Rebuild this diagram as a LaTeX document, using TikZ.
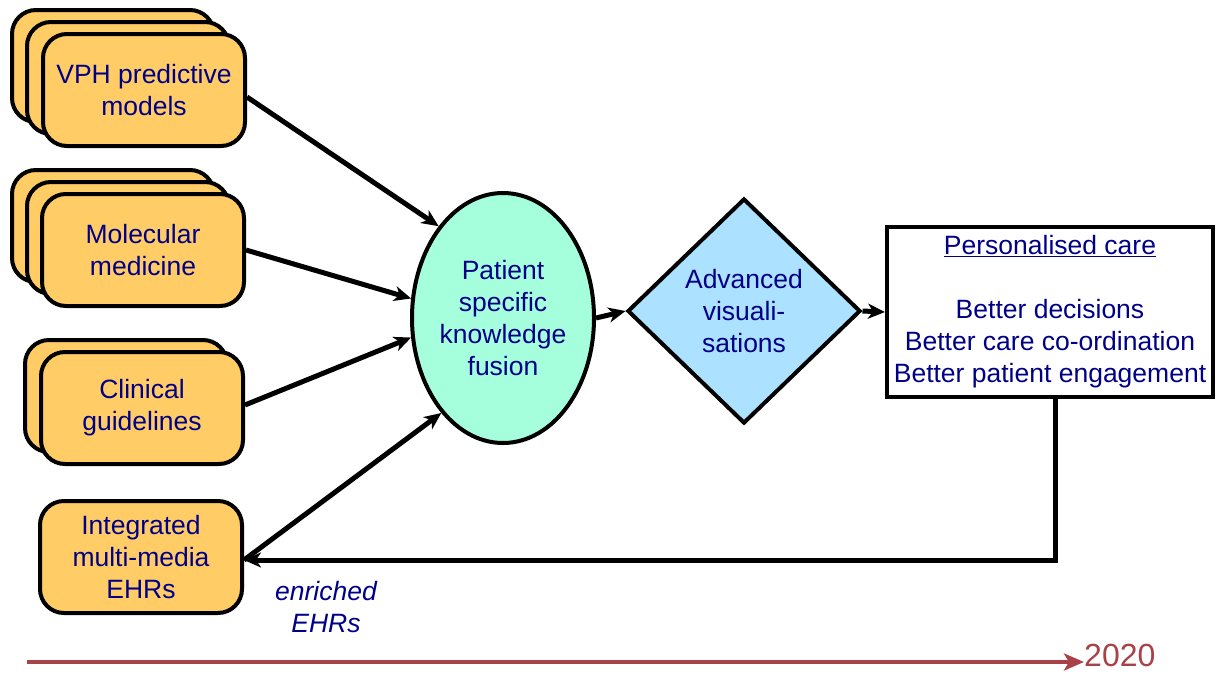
\documentclass[tikz,border=0pt]{standalone}
\usepackage{fontspec}
\setmainfont{Liberation Sans}
\usetikzlibrary{shapes.geometric,arrows.meta}
\definecolor{navy}{RGB}{0,0,135}
\definecolor{boxorange}{RGB}{255,204,102}
\definecolor{aqua}{RGB}{166,255,220}
\definecolor{lblue}{RGB}{172,226,255}
\definecolor{tline}{RGB}{168,66,72}
\tikzset{
  src/.style={draw=black, line width=4pt, fill=boxorange, rounded corners=24pt,
    minimum width=202pt, minimum height=112pt, inner sep=0pt, align=center,
    text=navy, font=\fontsize{26.5}{32}\selectfont},
  conn/.style={line width=5pt, -{Stealth[length=17pt,width=15pt,inset=5pt]}},
}
\begin{document}
\begin{tikzpicture}[x=1pt,y=-1pt]
\useasboundingbox (0,0) rectangle (1216,673);
% VPH stack
\node[src] (vphb) at (113,66) {};
\node[src] (vphm) at (128,78) {};
\node[src] (vph) at (144,90) {VPH predictive\\models};
% Molecular stack
\node[src] (molb) at (113,226) {};
\node[src] (molm) at (128,238) {};
\node[src] (mol) at (143,250) {Molecular\\medicine};
% Clinical stack
\node[src] (clib) at (126,396) {};
\node[src] (cli) at (142,408) {Clinical\\guidelines};
% Integrated
\node[src] (ehr) at (141,557) {Integrated\\multi-media\\EHRs};
% fusion
\node[ellipse, draw=black, line width=4pt, fill=aqua, minimum width=182pt,
  minimum height=250pt, inner sep=0pt, align=center, text=navy,
  font=\fontsize{26.5}{32}\selectfont] (fus) at (503,318)
  {Patient\\specific\\knowledge\\fusion};
% diamond
\node[diamond, draw=black, line width=4pt, fill=lblue, minimum width=233pt,
  minimum height=225pt, inner sep=0pt, align=center, text=navy,
  font=\fontsize{26.5}{32}\selectfont] (vis) at (744,311)
  {Advanced\\visuali-\\sations};
% personalised care
\node[draw=black, line width=4pt, fill=white, minimum width=326pt,
  minimum height=170pt, inner sep=0pt, align=center, text=navy,
  font=\fontsize{26.5}{32}\selectfont] (pc) at (1050,312)
  {\underline{Personalised care}\\ \\Better decisions\\Better care co-ordination\\Better patient engagement};
% connectors
\draw[conn] ([yshift=-7pt]vph.east) -- (fus.125);
\draw[conn] (mol.east) -- (fus.168);
\draw[conn] ([yshift=3pt]cli.east) -- (fus.192);
\draw[conn] ([yshift=-3pt]ehr.east) -- (fus.237);
\draw[conn] (fus.east) -- (vis.west);
\draw[conn] (vis.east) -- (pc.west);
\draw[conn] ([xshift=5pt]pc.south) |- ([yshift=-3pt]ehr.east);
\node[text=navy, align=center, font=\fontsize{26.5}{32}\selectfont\itshape] (enr) at (326,607) {enriched\\EHRs};
% timeline
\node[text=tline, font=\fontsize{32}{36}\selectfont, inner sep=0pt, anchor=west] (yr) at (1084,655) {2020};
\coordinate (t0) at (27,662);
\draw[tline, line width=4.5pt, -{Stealth[length=20pt,width=17pt,inset=5pt]}] (t0) -- (yr.west |- t0);
\end{tikzpicture}
\end{document}
